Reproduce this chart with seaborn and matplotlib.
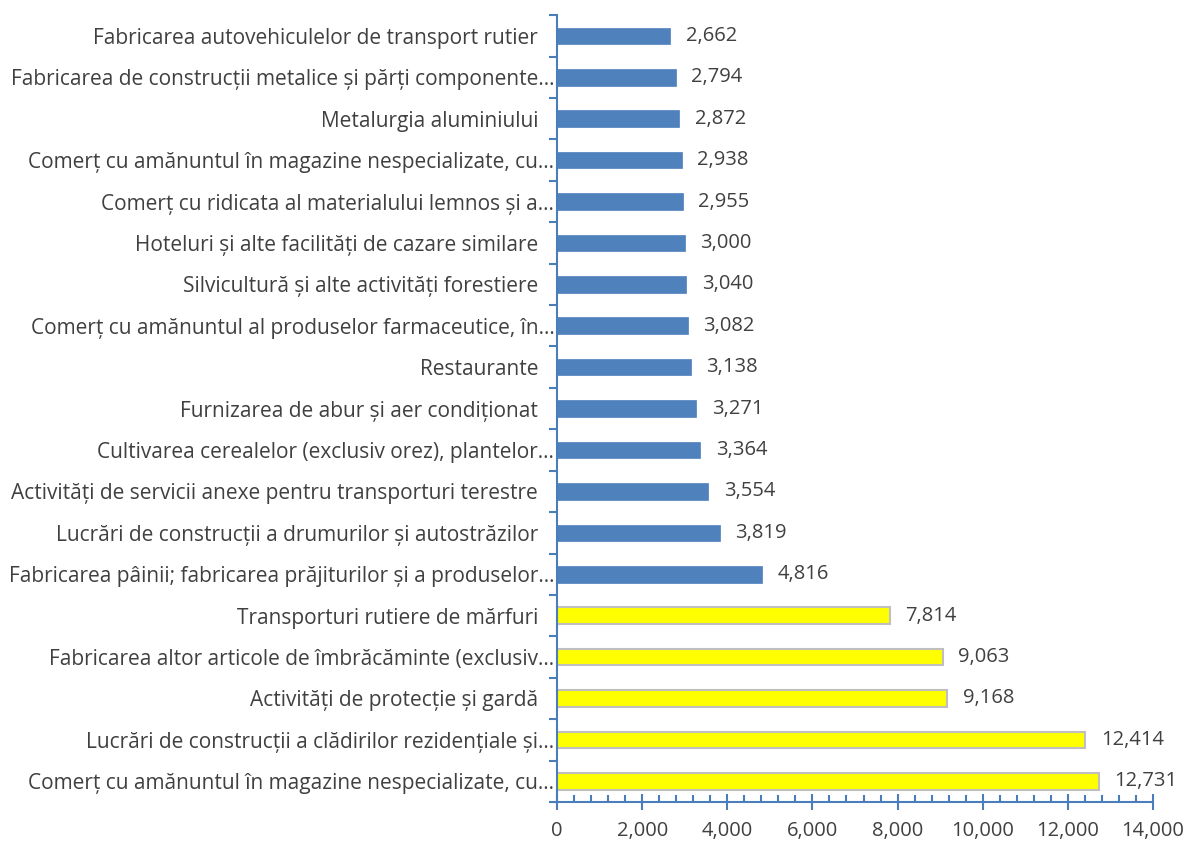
import numpy as np
import pandas as pd
import matplotlib
matplotlib.use('Agg')
import matplotlib.pyplot as plt
import seaborn as sns
from matplotlib.ticker import MultipleLocator, FixedLocator, FuncFormatter

# ── Data (top to bottom as shown) ─────────────────────────────────────────────
labels = [
    'Fabricarea autovehiculelor de transport rutier',
    'Fabricarea de construcții metalice și părți componente…',
    'Metalurgia aluminiului',
    'Comerț cu amănuntul în magazine nespecializate, cu…',
    'Comerț cu ridicata al materialului lemnos și a…',
    'Hoteluri și alte facilități de cazare similare',
    'Silvicultură și alte activități forestiere',
    'Comerț cu amănuntul al produselor farmaceutice, în…',
    'Restaurante',
    'Furnizarea de abur și aer condiționat',
    'Cultivarea cerealelor (exclusiv orez), plantelor…',
    'Activități de servicii anexe pentru transporturi terestre',
    'Lucrări de construcții a drumurilor și autostrăzilor',
    'Fabricarea pâinii; fabricarea prăjiturilor și a produselor…',
    'Transporturi rutiere de mărfuri',
    'Fabricarea altor articole de îmbrăcăminte (exclusiv…',
    'Activități de protecție și gardă',
    'Lucrări de construcții a clădirilor rezidențiale și…',
    'Comerț cu amănuntul în magazine nespecializate, cu…',
]
values = [2662, 2794, 2872, 2938, 2955, 3000, 3040, 3082, 3138, 3271,
          3364, 3554, 3819, 4816, 7814, 9063, 9168, 12414, 12731]
groups = ['blue'] * 14 + ['yellow'] * 5

# unique keys so duplicate label text gets its own row
df = pd.DataFrame({'key': [f'{i}' for i in range(len(labels))],
                   'value': values, 'group': groups})

plt.rcParams['font.family'] = ['Open Sans', 'DejaVu Sans']

axis_blue = '#4A7EBB'
text_col = '#404040'
fs = 14.5

fig = plt.figure(figsize=(11.89, 8.43), dpi=100)
ax = fig.add_axes([0.4685, 0.0486, 0.9697 - 0.4685, 0.982 - 0.0486])

sns.barplot(data=df, x='value', y='key', hue='group', orient='h',
            palette={'blue': '#4F81BD', 'yellow': '#FFFF00'},
            saturation=1, dodge=False, width=0.4, legend=False, ax=ax)

for patch, g in zip(ax.patches, df['group']):
    if g == 'yellow':
        patch.set_edgecolor('#BFBFBF')
        patch.set_linewidth(1.5)
    else:
        patch.set_edgecolor('#4F81BD')
        patch.set_linewidth(0.5)

# value labels
for i, v in enumerate(values):
    ax.text(v + 360, i, f'{v:,}', va='center', ha='left',
            fontsize=fs, color=text_col)

n = len(labels)
ax.set_ylim(n - 0.5, -0.5)
ax.set_xlim(0, 14000)
ax.set_xlabel('')
ax.set_ylabel('')

# full (untruncated) labels carry a trailing gap, like the original
shown = [l if l.endswith('…') else l + '   ' for l in labels]
ax.set_yticks(range(n))
ax.set_yticklabels(shown, fontsize=15, color=text_col)
ax.yaxis.set_minor_locator(FixedLocator(np.arange(-0.5, n, 1.0)))
ax.tick_params(axis='y', which='major', length=0, pad=2)
ax.tick_params(axis='y', which='minor', length=6, width=1.5,
               color=axis_blue, direction='out')

ax.xaxis.set_major_locator(MultipleLocator(2000))
ax.xaxis.set_minor_locator(MultipleLocator(400))
ax.xaxis.set_major_formatter(FuncFormatter(lambda x, p: f'{int(x):,}'))
ax.tick_params(axis='x', which='major', length=12, width=1.5,
               color=axis_blue, direction='inout', labelsize=fs,
               labelcolor=text_col, pad=8)
ax.tick_params(axis='x', which='minor', length=5, width=1.5,
               color=axis_blue, direction='in')

for side in ['top', 'right']:
    ax.spines[side].set_visible(False)
for side in ['left', 'bottom']:
    ax.spines[side].set_color(axis_blue)
    ax.spines[side].set_linewidth(1.5)

fig.savefig('out.png', dpi=100)
